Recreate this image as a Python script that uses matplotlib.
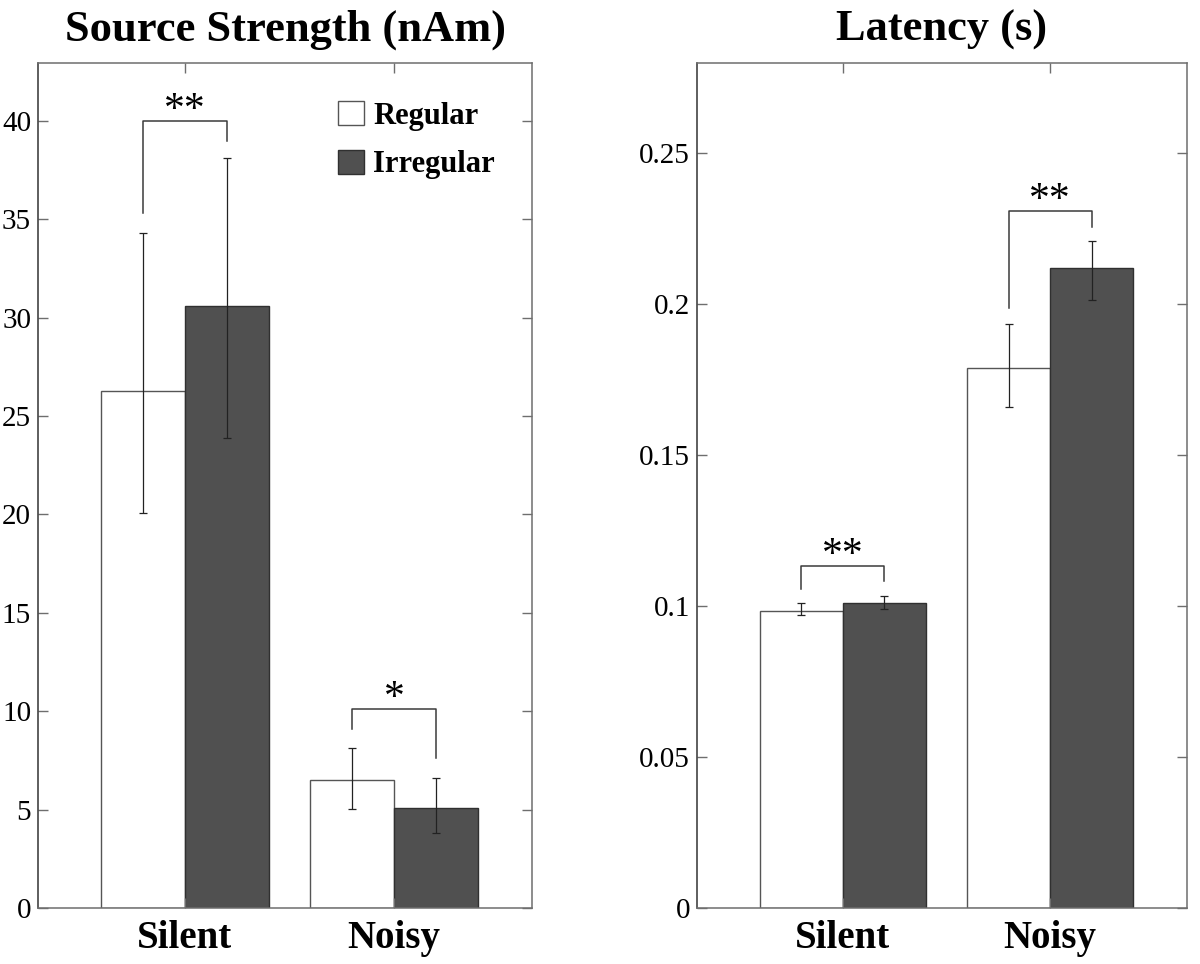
import matplotlib
matplotlib.use('Agg')
import matplotlib.pyplot as plt
import numpy as np

# данные
conditions = ['Silent', 'Noisy']
series_names = ['Regular', 'Irregular']

strength_regular = [26.3, 6.5]
strength_irregular = [30.6, 5.1]
strength_reg_err = [(20.1, 34.3), (5.05, 8.15)]
strength_irr_err = [(23.9, 38.1), (3.8, 6.6)]
strength_ticks = [0, 5, 10, 15, 20, 25, 30, 35, 40]
strength_tick_labels = ['0', '5', '10', '15', '20', '25', '30', '35', '40']
# скобки значимости: (верх, левая нога, правая нога, звезды)
strength_brackets = [(40.0, 35.3, 39.0, '**'), (10.1, 9.1, 7.6, '*')]

latency_regular = [0.0985, 0.179]
latency_irregular = [0.101, 0.212]
latency_reg_err = [(0.097, 0.101), (0.166, 0.1935)]
latency_irr_err = [(0.099, 0.1035), (0.2015, 0.221)]
latency_ticks = [0, 0.05, 0.1, 0.15, 0.2, 0.25]
latency_tick_labels = ['0', '0.05', '0.1', '0.15', '0.2', '0.25']
latency_brackets = [(0.1132, 0.1056, 0.1083, '**'), (0.2311, 0.1987, 0.2258, '**')]

plt.rcParams['font.family'] = ['Liberation Serif', 'DejaVu Serif']

SPINE = '#6e6e6e'
DARK = '#505050'
BAR_W = 0.4

fig = plt.figure(figsize=(12, 9.64), dpi=100)


def draw_panel(ax, title, regular, irregular, reg_err, irr_err, ticks, tick_labels, brackets, ymax, show_legend):
    x = np.arange(1, len(conditions) + 1)
    ax.bar(x - BAR_W / 2, regular, BAR_W, color='white', edgecolor='#555555', linewidth=1.0, label=series_names[0])
    ax.bar(x + BAR_W / 2, irregular, BAR_W, color=DARK, edgecolor='#303030', linewidth=1.0, label=series_names[1])

    for xs, vals, errs in [(x - BAR_W / 2, regular, reg_err), (x + BAR_W / 2, irregular, irr_err)]:
        lo = [v - e[0] for v, e in zip(vals, errs)]
        hi = [e[1] - v for v, e in zip(vals, errs)]
        ax.errorbar(xs, vals, yerr=[lo, hi], fmt='none', ecolor='#222222', elinewidth=0.9, capsize=3, capthick=0.9)

    for xc, (top, left_end, right_end, stars) in zip(x, brackets):
        xl, xr = xc - BAR_W / 2, xc + BAR_W / 2
        ax.plot([xl, xl, xr, xr], [left_end, top, top, right_end], color='#3a3a3a', linewidth=1.1)
        ax.text(xc, top, stars, ha='center', va='baseline', fontsize=30)

    ax.set_xlim(0.298, 2.66)
    ax.set_ylim(0, ymax)
    ax.set_xticks(x)
    ax.set_xticklabels(conditions, fontsize=28, fontweight='bold')
    ax.set_yticks(ticks)
    ax.set_yticklabels(tick_labels, fontsize=21)
    ax.tick_params(axis='both', direction='in', length=7, width=1, color=SPINE, top=True, right=True)
    ax.tick_params(axis='x', pad=9)
    ax.tick_params(axis='y', pad=5)
    for sp in ax.spines.values():
        sp.set_color(SPINE)
        sp.set_linewidth(1.1)
    ax.spines['left'].set_color('#333333')
    ax.set_title(title, fontsize=32, fontweight='bold', pad=16)

    if show_legend:
        ax.legend(loc='upper left', bbox_to_anchor=(0.607, 0.955), frameon=False,
                  prop={'size': 22, 'weight': 'bold'}, handlelength=0.85, handleheight=0.85,
                  labelspacing=0.62, handletextpad=0.3, borderpad=0, borderaxespad=0)


ax1 = fig.add_axes([0.0317, 0.0581, 0.4117, 0.8766])
draw_panel(ax1, 'Source Strength (nAm)', strength_regular, strength_irregular, strength_reg_err, strength_irr_err,
           strength_ticks, strength_tick_labels, strength_brackets, 42.95, True)

ax2 = fig.add_axes([0.5808, 0.0581, 0.4083, 0.8766])
draw_panel(ax2, 'Latency (s)', latency_regular, latency_irregular, latency_reg_err, latency_irr_err,
           latency_ticks, latency_tick_labels, latency_brackets, 0.28, False)

fig.savefig('out.png', dpi=100)
plt.close(fig)
